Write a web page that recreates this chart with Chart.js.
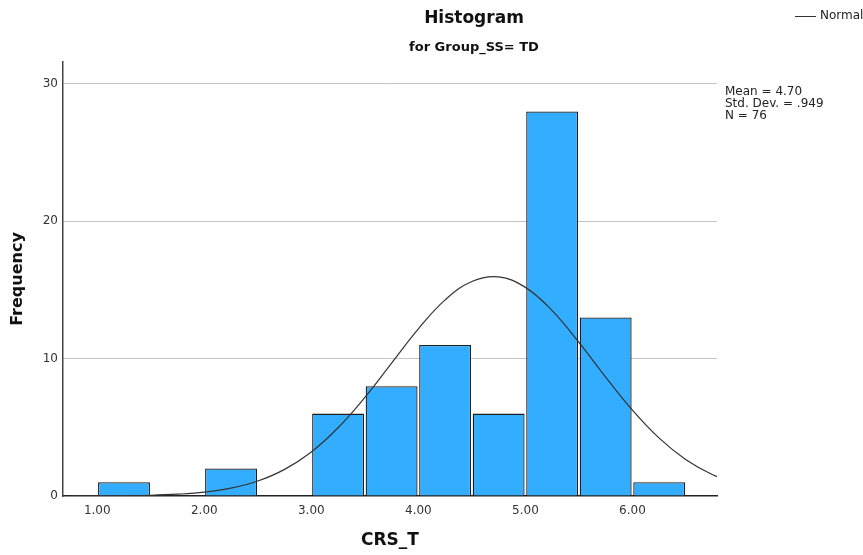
<!DOCTYPE html>
<html>
<head>
<meta charset="utf-8">
<title>Histogram CRS_T</title>
<script src="https://cdn.jsdelivr.net/npm/chart.js@4/dist/chart.umd.min.js"></script>
<style>
  html, body { margin: 0; padding: 0; background: #fff; }
  #wrap { width: 863px; height: 555px; }
</style>
</head>
<body>
<div id="wrap"><canvas id="chart" width="863" height="555"></canvas></div>
<script>
// bin centres (width 0.5) and counts
const binCentres = [1.25, 1.75, 2.25, 2.75, 3.25, 3.75, 4.25, 4.75, 5.25, 5.75, 6.25];
const binCounts = [1, 0, 2, 0, 6, 8, 11, 6, 28, 13, 1];

// fitted normal curve, sampled every 0.25 along the x axis
const curveX = [0.75, 1.0, 1.25, 1.5, 1.75, 2.0, 2.25, 2.5, 2.75, 3.0, 3.25, 3.5, 3.75, 4.0, 4.25, 4.5, 4.75, 5.0, 5.25, 5.5, 5.75, 6.0, 6.25, 6.5, 6.75, 7.0];
const curveY = [0.003, 0.008, 0.02, 0.05, 0.13, 0.28, 0.57, 1.09, 1.94, 3.21, 4.97, 7.18, 9.68, 12.17, 14.28, 15.62, 15.95, 15.19, 13.5, 11.19, 8.66, 6.25, 4.21, 2.64, 1.55, 0.84];

const xTicks = [1, 2, 3, 4, 5, 6];
const yTicks = [0, 10, 20, 30];

const statLines = ['Mean = 4.70', 'Std. Dev. = .949', 'N = 76'];
const chartTitle = 'Histogram';
const chartSubtitle = 'for Group_SS= TD';
const xLabel = 'CRS_T';
const yLabel = 'Frequency';
const legendLabel = 'Normal';

const FONT = '"DejaVu Sans", sans-serif';

// titles, axis names, legend and the stats box
const decorations = {
  id: 'decorations',
  afterDraw(chart) {
    const ctx = chart.ctx;
    const area = chart.chartArea;
    ctx.save();
    ctx.fillStyle = '#111';
    ctx.textAlign = 'center';
    ctx.textBaseline = 'middle';
    ctx.font = 'bold 17px ' + FONT;
    ctx.fillText(chartTitle, 474, 19);
    ctx.font = 'bold 13px ' + FONT;
    ctx.fillText(chartSubtitle, 474, 48);

    ctx.font = 'bold 17px ' + FONT;
    ctx.fillText(xLabel, (area.left + area.right) / 2, 541);

    ctx.save();
    ctx.translate(18, (area.top + area.bottom) / 2);
    ctx.rotate(-Math.PI / 2);
    ctx.font = 'bold 16px ' + FONT;
    ctx.fillText(yLabel, 0, 0);
    ctx.restore();

    // legend
    ctx.strokeStyle = '#333';
    ctx.lineWidth = 1;
    ctx.beginPath();
    ctx.moveTo(795, 16.5);
    ctx.lineTo(816, 16.5);
    ctx.stroke();
    ctx.textAlign = 'left';
    ctx.font = '12px ' + FONT;
    ctx.fillStyle = '#222';
    ctx.fillText(legendLabel, 820, 16);

    // stats
    statLines.forEach((t, i) => ctx.fillText(t, 725, 92 + i * 12));
    ctx.restore();
  }
};

new Chart(document.getElementById('chart'), {
  data: {
    datasets: [
      {
        type: 'line',
        data: curveX.map((x, i) => ({ x, y: curveY[i] })),
        borderColor: '#333',
        borderWidth: 1.2,
        pointRadius: 0,
        tension: 0.4,
        order: 0
      },
      {
        type: 'bar',
        data: binCentres.map((x, i) => ({ x, y: binCounts[i] })),
        backgroundColor: '#33adff',
        borderColor: '#1e1e1e',
        borderWidth: 1.3,
        barPercentage: 0.97,
        categoryPercentage: 1,
        order: 1
      }
    ]
  },
  options: {
    responsive: false,
    animation: false,
    layout: { padding: { left: 0, right: 146, top: 62, bottom: 0 } },
    plugins: { legend: { display: false }, tooltip: { enabled: false } },
    scales: {
      x: {
        type: 'linear',
        offset: false,
        min: 0.68,
        max: 6.79,
        afterFit(scale) { scale.height = 59; },
        afterBuildTicks(scale) { scale.ticks = xTicks.map(v => ({ value: v })); },
        grid: { display: false, drawTicks: false, offset: false },
        border: { display: true, color: '#222', width: 1.5 },
        ticks: {
          padding: 8,
          color: '#333',
          font: { family: FONT, size: 12 },
          callback: v => v.toFixed(2)
        }
      },
      y: {
        min: 0,
        max: 31.6,
        afterFit(scale) { scale.width = 63; },
        afterBuildTicks(scale) { scale.ticks = yTicks.map(v => ({ value: v })); },
        grid: {
          drawTicks: false,
          color: ctx => (ctx.tick && ctx.tick.value === 0 ? 'rgba(0,0,0,0)' : '#c4c4c4'),
          lineWidth: 1
        },
        border: { display: true, color: '#444', width: 1.5 },
        ticks: {
          padding: 5,
          color: '#333',
          font: { family: FONT, size: 12 }
        }
      }
    }
  },
  plugins: [decorations]
});
</script>
</body>
</html>
